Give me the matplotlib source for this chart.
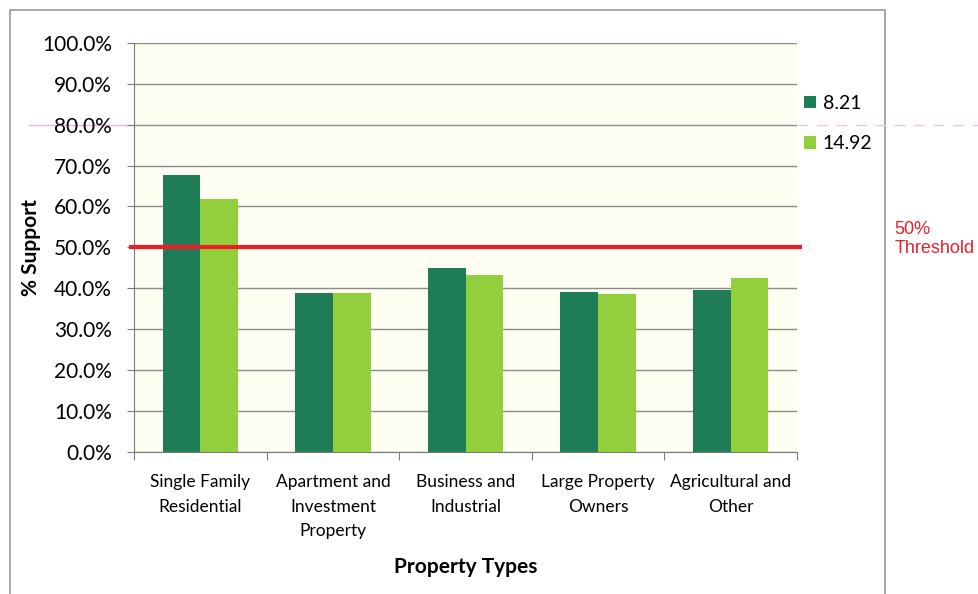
import matplotlib
matplotlib.use("Agg")
import matplotlib.pyplot as plt
from matplotlib.lines import Line2D
from matplotlib.patches import Rectangle
import numpy as np

plt.rcParams['font.family'] = ['Lato', 'DejaVu Sans']

categories = ["Single Family\nResidential", "Apartment and\nInvestment\nProperty",
              "Business and\nIndustrial", "Large Property\nOwners", "Agricultural and\nOther"]
series_names = ["8.21", "14.92"]
support_821 = [67.7, 38.8, 44.9, 39.0, 39.6]
support_1492 = [61.9, 38.8, 43.3, 38.6, 42.5]
threshold = 50.0

dark_green = "#1e7d56"
light_green = "#92cf3c"

fig = plt.figure(figsize=(9.79, 5.94), dpi=100)
fig.patch.set_facecolor("white")
ax = fig.add_axes([0.137, 0.239, 0.677, 0.689])
ax.set_facecolor("#fdfdf1")

x = np.arange(len(categories))
w = 0.285
ax.bar(x - w / 2, support_821, w, color=dark_green, zorder=3, label=series_names[0])
ax.bar(x + w / 2, support_1492, w, color=light_green, zorder=3, label=series_names[1])

ax.set_xlim(-0.5, len(categories) - 0.5)
ax.set_ylim(0, 100)
ax.set_yticks(np.arange(0, 101, 10))
ax.set_yticklabels([f"{v:.1f}%" for v in np.arange(0, 101, 10)], fontsize=15)
ax.yaxis.grid(True, color="#8a8a8a", lw=1.0, zorder=1)

# category labels sit between the boundary ticks
ax.set_xticks(np.arange(-0.5, len(categories)), minor=False)
ax.set_xticklabels([])
ax.set_xticks(x, minor=True)
ax.set_xticklabels(categories, minor=True, fontsize=12.5, linespacing=1.65)
ax.tick_params(axis='x', which='minor', length=0, pad=16)
ax.tick_params(axis='x', which='major', length=6, color="#7a7a7a")
ax.tick_params(axis='y', length=5, color="#7a7a7a", pad=11)

for s in ["top", "right"]:
    ax.spines[s].set_visible(False)
for s in ["left", "bottom"]:
    ax.spines[s].set_color("#7a7a7a")

ax.set_ylabel("% Support", fontsize=15, fontweight="bold", labelpad=1)
ax.set_xlabel("Property Types", fontsize=15, fontweight="bold", labelpad=13)

# 50% threshold line
ax.axhline(threshold, color="#ee1c24", lw=3, zorder=4, xmin=-0.005, xmax=1.005, clip_on=False)
fig.text(0.914, 0.597, "50%\nThreshold", color="#e8202a", fontsize=13,
         family=["Liberation Sans", "DejaVu Sans"], va="center", ha="left", linespacing=1.15)

leg = ax.legend(loc="upper left", bbox_to_anchor=(0.985, 0.915), frameon=False,
                fontsize=14, handlelength=0.6, handleheight=0.6, handletextpad=0.35,
                labelspacing=1.2)

# outer chart frame
fig.add_artist(Rectangle((0.010, -0.05), 0.894, 1.033, transform=fig.transFigure,
                         fill=False, edgecolor="#9a9a9a", lw=1.2))
# faint pink rule across the page
fig.add_artist(Line2D([0.03, 0.135], [0.79, 0.79], transform=fig.transFigure,
                      color="#e6b8e0", lw=1, zorder=0))
fig.add_artist(Line2D([0.814, 1.0], [0.79, 0.79], transform=fig.transFigure,
                      color="#e6c8e4", lw=1, ls=(0, (8, 6))))

fig.savefig("out.png", dpi=100)
